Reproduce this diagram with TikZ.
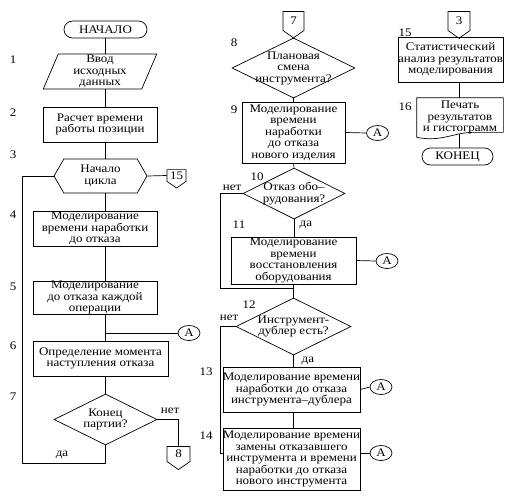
\documentclass[tikz,border=0pt]{standalone}
\usepackage{fontspec}
\setmainfont{Liberation Serif}[FakeStretch=1.12]
\usetikzlibrary{shapes.geometric,shapes.misc,shapes.symbols}

\begin{document}
\begin{tikzpicture}[x=1pt,y=-1pt,line width=0.7pt,
  every node/.style={font=\fontsize{11.6}{11.5}\selectfont},
  box/.style={draw,rectangle,inner sep=0pt,align=center},
  term/.style={draw,rounded rectangle,inner sep=0pt,minimum height=17pt},
  ques/.style={draw,diamond,inner sep=1pt},
  page/.style={draw,signal,signal to=south,signal pointer angle=110,inner sep=1pt,minimum width=21pt,minimum height=19pt},
  cross/.style={draw,ellipse,inner sep=0pt,minimum width=22pt,minimum height=15pt}]
\useasboundingbox (0,0) rectangle (524,501);
%Левый столбец
\node[term,minimum width=83pt] (start) at (105.5,29.5) {НАЧАЛО};
\node[draw,trapezium,trapezium left angle=74,trapezium right angle=106,trapezium stretches=true,inner sep=1pt,align=center,minimum width=114pt,minimum height=35pt] (in) at (100,71.5) {Ввод\\исходных\\данных};
\node[box,minimum width=114pt,minimum height=35pt] (b2) at (100,124.5) {Расчет времени\\работы позиции};
\node[draw,signal,signal to=east and west,signal pointer angle=120,inner sep=1pt,align=center,minimum width=93pt,minimum height=34pt] (hex) at (100.5,176) {Начало\\цикла};
\node[page,minimum width=19pt,minimum height=17pt] (c15) at (176.5,175.5) {15};
\node[box,minimum width=124pt,minimum height=35pt] (b4) at (95,228.5) {Моделирование\\времени наработки\\до отказа};
\node[box,minimum width=124pt,minimum height=33pt] (b5) at (95,297.5) {Моделирование\\до отказа каждой\\операции};
\node[cross] (A1) at (189,333) {A};
\node[box,minimum width=135pt,minimum height=35pt] (b6) at (100.5,358.5) {Определение момента\\наступления отказа};
\node[ques,minimum width=103pt,minimum height=51pt] (d7) at (105.5,419.5) {};
\node[align=center] (d7text) at (d7) {Конец\\партии?};
\node[page,minimum width=23pt,minimum height=18pt] (c8) at (178.5,454) {8};
\coordinate (loop) at (22,463);
\coordinate (br) at (105.5,333);
\draw (start.south) -- (start.south |- in.north);
\draw (in.south -| start) -- (b2.north -| start);
\draw (b2.south -| start) -- (hex.north -| start);
\draw (hex.south -| start) -- (b4.north -| start);
\draw (b4.south -| start) -- (b5.north -| start);
\draw (b5.south -| start) -- (b6.north -| start);
\draw (br) -- (A1.west);
\draw (b6.south -| start) -- (d7.north);
\draw (hex.east) -- (c15.west);
\draw (d7.east) -| (c8.north);
\draw (d7.south) -- (d7.south |- loop) -- (loop) |- (hex.west);
\node (no1) at (170,411) {нет};
\node (yes1) at (62,455) {да};
%Средний столбец
\node[page,minimum width=21pt,minimum height=22pt] (c7) at (293.5,21) {7};
\node[ques,minimum width=123pt,minimum height=60pt] (d8) at (293.5,68) {};
\node[align=center] (d8text) at (d8) {Плановая\\смена\\инструмента?};
\node[box,minimum width=103pt,minimum height=61pt] (b9) at (293.5,132.5) {Моделирование\\времени\\наработки\\до отказа\\нового изделия};
\node[cross] (A2) at (377.5,133) {A};
\node[ques,minimum width=102pt,minimum height=51pt] (d10) at (294,193.5) {};
\node[align=center] (d10text) at (d10) {Отказ обо--\\рудования?};
\node[box,minimum width=125pt,minimum height=47pt] (b11) at (293.5,260.5) {Моделирование\\времени\\восстановления\\оборудования};
\node[cross] (A3) at (387,261) {A};
\node[ques,minimum width=115pt,minimum height=57pt] (d12) at (293.5,326.5) {};
\node[align=center] (d12text) at (d12) {Инструмент-\\дублер есть?};
\node[box,minimum width=137pt,minimum height=45pt] (b13) at (291.5,389.5) {Моделирование времени\\наработки до отказа\\инструмента--дублера};
\node[cross] (A4) at (381,387) {A};
\node[box,minimum width=137pt,minimum height=62pt] (b14) at (291.5,459) {Моделирование времени\\замены отказавшего\\инструмента и времени\\наработки до отказа\\нового инструмента};
\node[cross] (A5) at (381,453) {A};
\coordinate (m1) at (293.5,288);
\draw (c7.south) -- (d8.north);
\draw (d8.south) -- (b9.north -| d8);
\draw (b9.east) -- (A2.west);
\draw (b9.south -| d8) -- (d10.north);
\draw (d10.south) -- (b11.north -| d10);
\draw (b11.east) -- (A3.west);
\draw (b11.south -| d8) -- (d12.north);
\draw (d10.west) -- +(-22,0) |- (m1);
\draw (d12.south) -- (b13.north -| d12);
\draw (b13.east) -- (A4.west);
\draw (b13.south -| d12) -- (b14.north -| d12);
\draw (d12.west) -- +(-15,0) |- ([yshift=6pt]b14.west);
\draw ([yshift=6pt]b14.east) -- (A5.west);
\node (no2) at (232,188) {нет};
\node[anchor=west] (yes2) at (296,225) {да};
\node (no3) at (229,318) {нет};
\node[anchor=west] (yes3) at (298,361) {да};
%Правый столбец
\node[page,minimum width=22pt,minimum height=22pt] (c3) at (459,21) {3};
\node[box,minimum width=105pt,minimum height=45pt] (b15) at (450.5,59.5) {Статистический\\анализ результатов\\моделирования};
\node[minimum width=86pt,minimum height=39pt,inner sep=0pt,align=center] (doc) at (460,117.5) {Печать\\результатов\\и гистограмм};
\draw (doc.south west) -- (doc.north west) -- (doc.north east) -- ([yshift=5pt]doc.south east) -- ([yshift=5pt,xshift=-30pt]doc.south east) .. controls +(-20,0) and +(25,5) .. (doc.south west);
\node[term,minimum width=71pt] (end) at (457.5,156.5) {КОНЕЦ};
\draw (c3.south) -- (c3.south |- b15.north);
\draw (b15.south -| c3) -- (doc.north -| c3);
\draw ([yshift=3pt]doc.south -| c3) -- (end.north -| c3);
%Номера
\node (n1) at (13,60) {1};
\node (n2) at (13,113) {2};
\node (n3) at (13,155) {3};
\node (n4) at (13,215) {4};
\node (n5) at (13,287) {5};
\node (n6) at (13,346) {6};
\node (n7) at (13,397) {7};
\node (n8) at (234,43) {8};
\node (n9) at (234,110) {9};
\node (n10) at (257,177) {10};
\node (n11) at (239,225) {11};
\node (n12) at (249,305) {12};
\node (n13) at (206,372) {13};
\node (n14) at (206,436) {14};
\node (n15) at (405,33) {15};
\node (n16) at (405,107) {16};
\end{tikzpicture}
\end{document}
